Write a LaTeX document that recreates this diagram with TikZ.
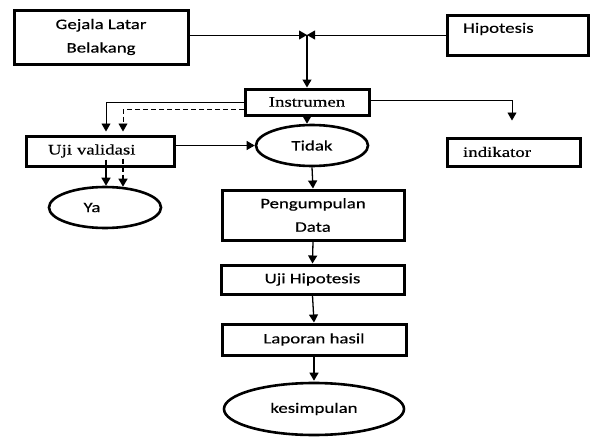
\documentclass[tikz,border=0pt]{standalone}
\usepackage{fontspec}
\setmainfont{Carlito}[FakeStretch=1.3,FakeBold=0.4]
\newfontfamily\timesfont{Liberation Serif}[FakeStretch=1.3,FakeBold=0.4]
\usetikzlibrary{shapes.geometric,arrows.meta}

\tikzset{
  kotak/.style={draw, line width=3pt, inner sep=0pt, align=center},
  elips/.style={draw, ellipse, line width=2.6pt, inner sep=0pt},
  serif/.style={font=\fontsize{14.5}{23.5}\timesfont},
  panah/.style={line width=1.3pt, -{Triangle[length=8pt,width=9pt]}},
  tipis/.style={line width=0.9pt},
  putus/.style={dash pattern=on 5pt off 3pt},
}

\begin{document}
\begin{tikzpicture}[x=1pt,y=-1pt,font=\fontsize{14.5}{23.5}\selectfont]
  \useasboundingbox (0,0) rectangle (590,439);

  \node[kotak, minimum width=174, minimum height=54] (gejala) at (101,37) {Gejala Latar\\Belakang};
  \node[kotak, minimum width=141, minimum height=40] (hipotesis) at (517.5,35) {};
  \node[anchor=west, inner sep=0pt] (hipotesisteks) at (463,29) {Hipotesis};
  \coordinate (temu) at (307,35);

  \node[kotak, serif, minimum width=124, minimum height=26] (instrumen) at (307,102) {Instrumen};
  \node[kotak, serif, minimum width=148, minimum height=30, text width=104, align=left] (validasi) at (100,151) {Uji validasi};
  \node[kotak, serif, minimum width=133, minimum height=28, text width=101, align=left] (indikator) at (513.5,152) {indikator};

  \node[elips, minimum width=112, minimum height=41] (tidak) at (312,145.5) {Tidak};
  \node[elips, minimum width=112, minimum height=41, label={[xshift=-13pt]center:Ya}] (ya) at (105,207.5) {};

  \node[kotak, minimum width=182, minimum height=50] (pengumpulan) at (313,215) {Pengumpulan\\Data};
  \node[kotak, minimum width=183, minimum height=29] (ujihipotesis) at (312.5,279.5) {Uji Hipotesis};
  \node[kotak, minimum width=184, minimum height=31] (laporan) at (314,339.5) {Laporan hasil};
  \node[elips, minimum width=180, minimum height=52] (kesimpulan) at (314,409) {kesimpulan};

  \draw[panah, tipis] (gejala.east |- temu) -- (temu);
  \draw[panah, tipis] (hipotesis.west) -- (temu);
  \draw[panah] (temu) -- (instrumen.north);
  \draw[panah, tipis] ([yshift=2pt]instrumen.east) -| ([xshift=-1.5pt,yshift=16pt]indikator.north);
  \draw[panah, tipis] (instrumen.west) -| ([xshift=6pt,yshift=3pt]validasi.north);
  \draw[panah, tipis, putus] ([yshift=-7pt]instrumen.west) -| ([xshift=23pt,yshift=3pt]validasi.north);
  \draw[panah] ([xshift=6pt,yshift=8pt]validasi.south) -- ([xshift=1pt]ya.north);
  \draw[panah, putus] ([xshift=23pt,yshift=9pt]validasi.south) -- ([xshift=18pt,yshift=-1pt]ya.north);
  \draw[panah, tipis] (validasi.east |- tidak.west) -- (tidak.west);
  \draw[panah] (instrumen.south) -- (instrumen.south |- tidak.north);
  \draw[panah] (tidak.south) -- (pengumpulan.north);
  \draw[panah] (pengumpulan.south) -- (ujihipotesis.north);
  \draw[panah] (ujihipotesis.south) -- (laporan.north);
  \draw[panah] (laporan.south) -- ([yshift=1pt]kesimpulan.north);
\end{tikzpicture}
\end{document}
